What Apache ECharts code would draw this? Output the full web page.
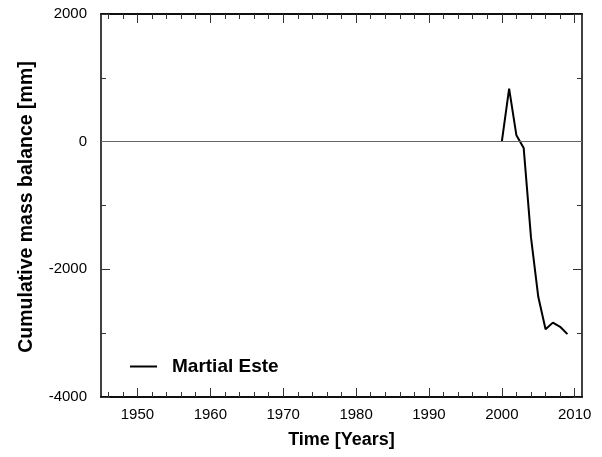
<!DOCTYPE html>
<html><head><meta charset="utf-8">
<script src="https://cdn.jsdelivr.net/npm/echarts@6/dist/echarts.min.js"></script>
<style>html,body{margin:0;padding:0;background:#fff}#c{width:602px;height:457px}</style>
</head><body><div id="c"></div>
<script>
const years = [2000, 2001, 2002, 2003, 2004, 2005, 2006, 2007, 2008, 2009];
const balance = [0, 830, 100, -100, -1500, -2430, -2940, -2835, -2900, -3015];
const seriesName = 'Martial Este';
const xMajorTicks = [1950, 1960, 1970, 1980, 1990, 2000, 2010];
const xMinorTicks = [1946,1948,1952,1954,1956,1958,1962,1964,1966,1968,1972,1974,1976,1978,1982,1984,1986,1988,1992,1994,1996,1998,2002,2004,2006,2008];
const xTitle = 'Time [Years]';
const yTitle = 'Cumulative mass balance [mm]';

const font = 'Liberation Sans, Arial, sans-serif';
const chart = echarts.init(document.getElementById('c'), null, {renderer:'canvas'});
const baseX = {type:'value', min:1945, max:2011, splitLine:{show:false}};
function xAx(pos, ticks, len, labels, extra) {
  return Object.assign({}, baseX, {
    position: pos,
    axisLine:{show:true, onZero:false, lineStyle:{color:'#000', width:1.5}},
    axisTick:{show:true, inside:true, length:len, customValues:ticks, lineStyle:{color:'#333', width:1}},
    axisLabel: labels ? {show:true, customValues:ticks, color:'#000', fontSize:15, fontFamily:font, margin:10,
                         formatter:v=>String(v)} : {show:false}
  }, extra||{});
}
const option = {
  animation:false,
  grid:{left:101, right:20, top:14, bottom:60, containLabel:false},
  xAxis:[
    xAx('bottom', xMajorTicks, 9, true, {name:xTitle, nameLocation:'middle', nameGap:34,
      nameTextStyle:{fontSize:18, fontWeight:'bold', fontFamily:font, color:'#000'}}),
    xAx('bottom', xMinorTicks, 5, false),
    xAx('top', xMajorTicks, 9, false),
    xAx('top', xMinorTicks, 5, false)
  ],
  yAxis:[
    {type:'value', min:-4000, max:2000, interval:2000, position:'left',
     axisLine:{show:true, onZero:false, lineStyle:{color:'#000', width:1.5}},
     axisTick:{show:true, inside:true, length:9, lineStyle:{color:'#333'}},
     minorTick:{show:true, splitNumber:2, length:5, lineStyle:{color:'#333'}},
     axisLabel:{color:'#000', fontSize:15, fontFamily:font, margin:14, formatter:v=>String(v)},
     splitLine:{show:false}},
    {type:'value', min:-4000, max:2000, interval:2000, position:'right',
     axisLine:{show:true, onZero:false, lineStyle:{color:'#000', width:1.5}},
     axisTick:{show:true, inside:true, length:9, lineStyle:{color:'#333'}},
     minorTick:{show:true, splitNumber:2, length:5, lineStyle:{color:'#333'}},
     axisLabel:{show:false}, splitLine:{show:false}}
  ],
  graphic:[{type:'text', x:27, y:207, rotation:Math.PI/2,
    style:{text:yTitle, font:'bold 19.5px ' + font, fill:'#000', align:'center', verticalAlign:'middle'}}],
  legend:{show:true, left:125, top:352, itemWidth:27, itemHeight:14, icon:'path://M0,0 L27,0 L27,2 L0,2 Z',
    data:[seriesName],
    textStyle:{fontSize:19, fontWeight:'bold', fontFamily:font, color:'#000', padding:[0,0,0,10]}},
  series:[{
    name:seriesName, type:'line', xAxisIndex:0, yAxisIndex:0,
    data: years.map((y,i)=>[y, balance[i]]),
    symbol:'none', lineStyle:{color:'#000', width:2}, itemStyle:{color:'#000'},
    markLine:{silent:true, symbol:'none', label:{show:false},
      lineStyle:{color:'#666', width:1, type:'solid'}, data:[{yAxis:0}]}
  }]
};
chart.setOption(option);
</script></body></html>
